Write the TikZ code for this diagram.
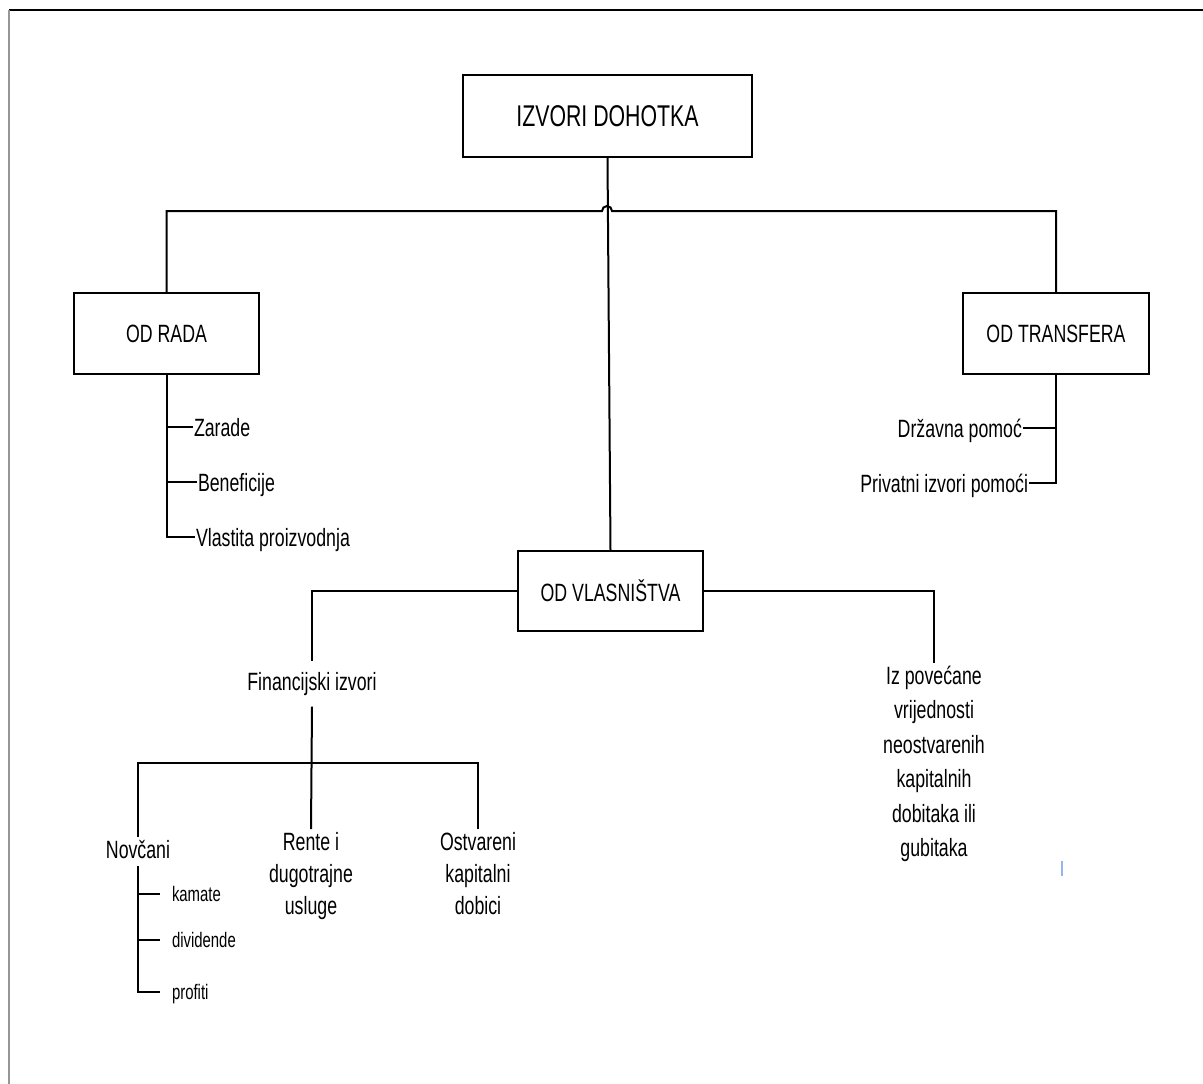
\documentclass[tikz,border=0pt]{standalone}
\usepackage{fontspec}
\setmainfont{Liberation Sans}[FakeStretch=0.71]
\definecolor{cursorblue}{RGB}{150,180,240}
\definecolor{framegray}{RGB}{150,150,150}
\begin{document}
\begin{tikzpicture}[x=1pt,y=-1pt,line width=2pt,
  box/.style={draw,line width=2pt,inner sep=0pt,font=\fontsize{25}{30}\selectfont},
  item/.style={inner sep=0pt,text height=18pt,text depth=0pt,font=\fontsize{25}{30}\selectfont},
  smallitem/.style={inner xsep=11pt,inner ysep=0pt,text height=15pt,text depth=0pt,font=\fontsize{21}{25}\selectfont},
  label/.style={inner sep=2pt,align=center,font=\fontsize{25}{32}\selectfont}]
\useasboundingbox (0,0) rectangle (1203,1084);
% frame
\draw[line width=2pt,black] (9,10) -- (1203,10);
\draw[line width=1.5pt,framegray] (9,10) -- (9,1084);
% boxes
\node[box,minimum width=289pt,minimum height=82pt,font=\fontsize{30}{36}\selectfont] (top) at (607.5,116) {IZVORI DOHOTKA};
\node[box,minimum width=185pt,minimum height=81pt] (rada) at (166.5,333.5) {OD RADA};
\node[box,minimum width=186pt,minimum height=81pt] (transf) at (1056,333.5) {OD TRANSFERA};
\node[box,minimum width=185pt,minimum height=80pt] (vl) at (610.5,591) {OD VLASNIŠTVA};
% bus with hop
\coordinate (hopL) at (602,211);
\draw (rada.north) |- (hopL) arc[start angle=180,end angle=360,radius=5] -| (transf.north);
\draw (top.south) -- (vl.north);
% od rada list
\node[item,anchor=west] (zar) at (193,427) {Zarade};
\node[item,anchor=west] (ben) at (197,482) {Beneficije};
\node[item,anchor=west] (vla) at (195,537) {Vlastita proizvodnja};
\draw (rada.south) |- (vla.west);
\draw (zar.west -| rada.south) -- (zar.west);
\draw (ben.west -| rada.south) -- (ben.west);
% od transfera list
\node[item,anchor=east] (drz) at (1023,428) {Državna pomoć};
\node[item,anchor=east] (priv) at (1029,483) {Privatni izvori pomoći};
\draw (transf.south) |- (priv.east);
\draw (drz.east -| transf.south) -- (drz.east);
% od vlasnistva
\node[inner xsep=2pt,inner ysep=10pt,font=\fontsize{25}{30}\selectfont] (fin) at (312,684) {Financijski izvori};
\node[label,anchor=north,font=\fontsize{25}{34.4}\selectfont] (iz) at (934,663) {Iz povećane\\vrijednosti\\neostvarenih\\kapitalnih\\dobitaka ili\\gubitaka};
\draw (vl.west) -| (fin.north);
\draw (vl.east) -| (iz.north);
% financijski sub-bus
\node[label,anchor=north] (nov) at (138,837) {Novčani};
\node[label,anchor=north] (ren) at (311,829) {Rente i\\dugotrajne\\usluge};
\node[label,anchor=north] (ost) at (478,829) {Ostvareni\\kapitalni\\dobici};
\coordinate (b2r) at (478,763);
\draw (fin.south) -- (ren.north);
\draw (nov.north) |- (b2r) -- (ost.north);
% novcani list
\node[smallitem,anchor=west] (kam) at (160,894) {kamate};
\node[smallitem,anchor=west] (div) at (160,940) {dividende};
\node[smallitem,anchor=west] (prof) at (160,992) {profiti};
\coordinate (novtop) at (138,866);
\draw (novtop) |- (prof.west);
\draw (kam.west -| novtop) -- (kam.west);
\draw (div.west -| novtop) -- (div.west);
% cursor mark
\draw[line width=1.5pt,cursorblue] (1062,861) -- (1062,876);
\end{tikzpicture}
\end{document}
